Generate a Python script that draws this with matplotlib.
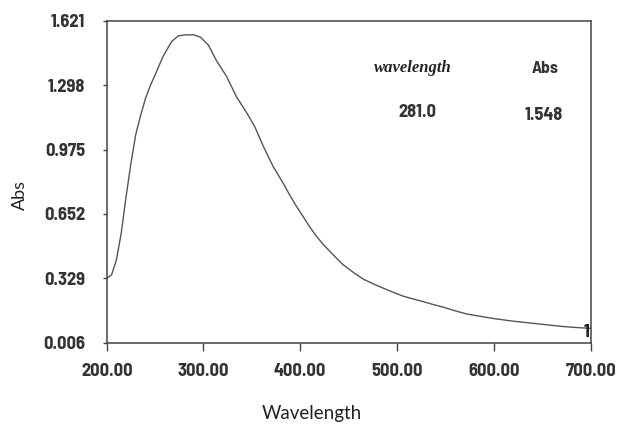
import os
import matplotlib
matplotlib.use("Agg")
import matplotlib.pyplot as plt
from matplotlib import font_manager as fm
from matplotlib.font_manager import FontProperties
from matplotlib.textpath import TextPath

wavelength = [200, 205, 210, 215, 220, 225, 230, 235, 240, 245, 250, 258, 267, 274, 281,
              290, 297, 305, 313, 324, 334, 345, 353, 362, 372, 382, 389, 396, 403, 410,
              417, 424, 431, 438, 444, 455, 465, 476, 486, 496, 506, 517, 527, 537, 548,
              560, 572, 589, 600, 620, 641, 660, 672, 686, 700]
absorbance = [0.329, 0.346, 0.421, 0.555, 0.738, 0.905, 1.050, 1.145, 1.230, 1.295, 1.349,
              1.440, 1.516, 1.545, 1.550, 1.550, 1.538, 1.499, 1.424, 1.340, 1.240,
              1.156, 1.089, 0.989, 0.889, 0.809, 0.747, 0.690, 0.638, 0.585,
              0.538, 0.497, 0.462, 0.427, 0.398, 0.358, 0.325, 0.300, 0.279, 0.259,
              0.240, 0.225, 0.212, 0.198, 0.184, 0.166, 0.150, 0.136, 0.127, 0.114,
              0.103, 0.093, 0.087, 0.082, 0.078]

xticks = [200, 300, 400, 500, 600, 700]
xtick_labels = ["200.00", "300.00", "400.00", "500.00", "600.00", "700.00"]
yticks = [0.006, 0.329, 0.652, 0.975, 1.298, 1.621]
ytick_labels = ["0.006", "0.329", "0.652", "0.975", "1.298", "1.621"]

peak_wavelength = "281.0"
peak_abs = "1.548"


def ink(prop, s):
    e = TextPath((0, 0), s, prop=prop).get_extents()
    return e.width * 100 / 72, e.height * 100 / 72


# pick the bold sans font whose digit shape is closest to the narrow reference font
TARGET_RATIO = 2.75
best = None
seen = set()
for f in fm.fontManager.ttflist:
    base = os.path.basename(f.fname).lower()
    nm = f.name.lower()
    if f.fname in seen:
        continue
    seen.add(f.fname)
    if "bold" not in base or any(k in base for k in ("italic", "oblique", "semibold", "extrabold",
                                                      "demibold")):
        continue
    if any(k in nm for k in ("mono", "serif", "cjk", "math", "symbol")):
        continue
    try:
        p = FontProperties(fname=f.fname, size=12)
        w, _ = ink(p, "1.298")
        _, h = ink(p, "1298")
        r = w / h
    except Exception:
        continue
    score = abs(r - TARGET_RATIO)
    if best is None or score < best[0]:
        best = (score, f.fname, w, h)

if best is not None:
    NFILE = best[1]
    s_w = 12 * 38.0 / best[2]
    s_h = 12 * 13.3 / best[3]
    NSIZE = min(s_h, s_w * 1.08)
else:
    NFILE = None
    NSIZE = 11


def nprop(size=None):
    if NFILE:
        return FontProperties(fname=NFILE, size=size or NSIZE)
    return FontProperties(family="DejaVu Sans", weight="bold", stretch="condensed",
                          size=size or NSIZE)


label_font = ["Lato", "DejaVu Sans"]

fig = plt.figure(figsize=(6.24, 4.24), dpi=100)
ax = fig.add_axes([0.171, 0.1917, 0.7756, 0.7595])

ax.plot(wavelength, absorbance, color="#555555", lw=1.0)
ax.set_xlim(200, 700)
ax.set_ylim(0.006, 1.621)

ax.set_xticks(xticks)
ax.set_xticklabels(xtick_labels)
ax.set_yticks(yticks)
ax.set_yticklabels(ytick_labels)

for s in ax.spines.values():
    s.set_color("#444444")
    s.set_linewidth(1.1)

ax.tick_params(axis="x", direction="out", length=5.8, width=1.0, color="#444444",
               pad=9, labelcolor="#333333")
ax.tick_params(axis="y", direction="out", length=3, width=1.0, color="#444444",
               pad=12.5, labelcolor="#333333")
for lab in ax.get_xticklabels() + ax.get_yticklabels():
    lab.set_fontproperties(nprop())

fig.text(311.7 / 624, 1 - 414 / 424, "Wavelength", family=label_font, fontsize=13.5,
         color="#222222", ha="center", va="center")
fig.text(20 / 624, 1 - 195 / 424, "Abs", family=label_font, fontsize=13,
         color="#222222", ha="center", va="center", rotation=90)

ax.text(0.632, 0.852, "wavelength", transform=ax.transAxes, ha="center", va="center",
        family=["Liberation Serif", "DejaVu Serif"], style="italic", fontweight="bold",
        fontsize=12, color="#222222")
ax.text(0.905, 0.850, "Abs", transform=ax.transAxes, ha="center", va="center",
        color="#333333", fontproperties=nprop(NSIZE * 0.95))
ax.text(0.641, 0.716, peak_wavelength, transform=ax.transAxes, ha="center", va="center",
        color="#333333", fontproperties=nprop())
ax.text(0.903, 0.706, peak_abs, transform=ax.transAxes, ha="center", va="center",
        color="#333333", fontproperties=nprop())
ax.text(0.997, 0.004, "1", transform=ax.transAxes, ha="right", va="bottom",
        color="#222222", fontproperties=nprop())

fig.savefig("out.png", dpi=100)
